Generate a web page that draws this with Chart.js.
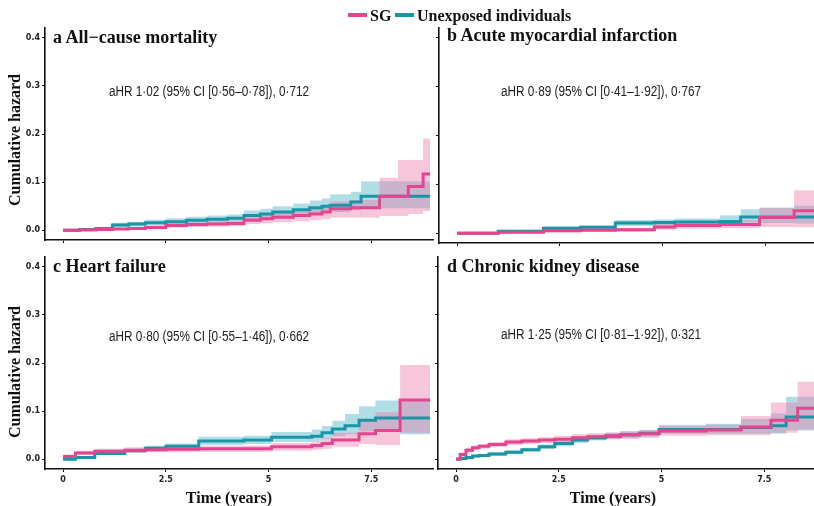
<!DOCTYPE html>
<html>
<head>
<meta charset="utf-8">
<script src="https://cdn.jsdelivr.net/npm/chart.js@4.4.1/dist/chart.umd.min.js"></script>
<style>
  html, body { margin: 0; padding: 0; background: #fff; }
  body { width: 814px; height: 506px; position: relative; overflow: hidden; }
  canvas { position: absolute; }
  .txt { position: absolute; white-space: nowrap; line-height: 1; }
  .ptitle { font: bold 18px "Liberation Serif", "Times New Roman", serif; color: #111; }
  .note { font: 14px "Liberation Sans", Arial, sans-serif; color: #222; transform: translateX(-50%) scaleX(0.84); }
  .axt { font: bold 16px "Liberation Serif", "Times New Roman", serif; color: #111; }
  .leg { font: bold 16px "Liberation Serif", "Times New Roman", serif; color: #111; }
  .swatch { position: absolute; height: 4px; }
</style>
</head>
<body>
<canvas id="pa" width="440" height="250" style="left:0;top:0"></canvas>
<canvas id="pb" width="420" height="253" style="left:415px;top:0"></canvas>
<canvas id="pc" width="440" height="256" style="left:0;top:250px"></canvas>
<canvas id="pd" width="420" height="256" style="left:414px;top:250px"></canvas>

<div class="swatch" style="left:348px;top:13px;width:19px;background:#e4458e"></div>
<div class="txt leg" style="left:370px;top:7px">SG</div>
<div class="swatch" style="left:395px;top:13px;width:19px;background:#1a95a8"></div>
<div class="txt leg" style="left:417px;top:7px">Unexposed individuals</div>

<div id="labels"></div>

<script>
// x ticks (years) and y ticks (cumulative hazard)
let xTicks = [0, 2.5, 5, 7.5];
let yTicks = [0, 0.1, 0.2, 0.3, 0.4];

let panelTitles = ['a All\u2212cause mortality', 'b Acute myocardial infarction', 'c Heart failure', 'd Chronic kidney disease'];
let panelNotes = [
    'aHR 1\u00b702 (95% CI [0\u00b756\u20130\u00b778]), 0\u00b7712',
    'aHR 0\u00b789 (95% CI [0\u00b741\u20131\u00b792]), 0\u00b7767',
    'aHR 0\u00b780 (95% CI [0\u00b755\u20131\u00b746]), 0\u00b7662',
    'aHR 1\u00b725 (95% CI [0\u00b781\u20131\u00b792]), 0\u00b7321'
];

// a: all-cause mortality
let timesA = [0, 0.4, 0.8, 1.2, 1.6, 2.0, 2.5, 3.0, 3.5, 4.0, 4.4, 4.8, 5.1, 5.6, 6.0, 6.3, 6.5, 7.0, 7.25, 7.7, 8.15, 8.4, 8.76, 8.93];
let sgA   = [0, 0.001, 0.002, 0.003, 0.004, 0.006, 0.010, 0.012, 0.013, 0.014, 0.021, 0.024, 0.027, 0.031, 0.034, 0.038, 0.045, 0.047, 0.047, 0.071, 0.071, 0.091, 0.117, 0.117];
let sgLoA = [0, 0.000, 0.001, 0.001, 0.002, 0.003, 0.006, 0.007, 0.008, 0.009, 0.013, 0.015, 0.017, 0.019, 0.021, 0.023, 0.026, 0.026, 0.026, 0.030, 0.030, 0.034, 0.040, 0.040];
let sgHiA = [0, 0.002, 0.004, 0.005, 0.007, 0.010, 0.015, 0.017, 0.019, 0.020, 0.029, 0.033, 0.037, 0.042, 0.046, 0.051, 0.060, 0.063, 0.063, 0.109, 0.146, 0.146, 0.190, 0.190];
let unA   = [0, 0.002, 0.004, 0.011, 0.013, 0.016, 0.018, 0.021, 0.023, 0.025, 0.031, 0.034, 0.038, 0.043, 0.047, 0.050, 0.052, 0.059, 0.071, 0.071, 0.071, 0.071, 0.071, 0.071];
let unLoA = [0, 0.001, 0.002, 0.006, 0.008, 0.010, 0.012, 0.014, 0.016, 0.018, 0.022, 0.024, 0.027, 0.031, 0.034, 0.036, 0.038, 0.042, 0.046, 0.046, 0.046, 0.046, 0.046, 0.046];
let unHiA = [0, 0.003, 0.007, 0.016, 0.018, 0.022, 0.025, 0.028, 0.031, 0.033, 0.041, 0.045, 0.050, 0.056, 0.062, 0.066, 0.075, 0.080, 0.102, 0.102, 0.102, 0.102, 0.102, 0.102];

// b: acute myocardial infarction
let timesB = [0, 1.0, 2.1, 3.0, 3.85, 4.8, 5.3, 6.4, 6.9, 7.36, 8.2, 8.95];
let sgB   = [0, 0.002, 0.005, 0.006, 0.007, 0.013, 0.016, 0.018, 0.018, 0.032, 0.046, 0.046];
let sgLoB = [0, 0.000, 0.002, 0.003, 0.003, 0.007, 0.009, 0.010, 0.010, 0.013, 0.012, 0.012];
let sgHiB = [0, 0.004, 0.008, 0.010, 0.011, 0.020, 0.024, 0.027, 0.027, 0.052, 0.088, 0.088];
let unB   = [0, 0.004, 0.010, 0.012, 0.021, 0.022, 0.023, 0.024, 0.033, 0.033, 0.033, 0.033];
let unLoB = [0, 0.002, 0.006, 0.008, 0.015, 0.016, 0.016, 0.017, 0.022, 0.021, 0.020, 0.020];
let unHiB = [0, 0.006, 0.014, 0.016, 0.027, 0.028, 0.030, 0.037, 0.049, 0.052, 0.056, 0.056];

// c: heart failure
let timesC = [0, 0.3, 0.77, 1.5, 2.0, 2.5, 3.3, 4.4, 5.07, 6.05, 6.3, 6.55, 6.86, 7.2, 7.6, 8.2, 8.93];
let sgC   = [0.006, 0.013, 0.017, 0.019, 0.020, 0.021, 0.022, 0.022, 0.026, 0.029, 0.033, 0.040, 0.040, 0.053, 0.060, 0.123, 0.123];
let sgLoC = [0.003, 0.009, 0.012, 0.014, 0.015, 0.015, 0.016, 0.016, 0.018, 0.020, 0.022, 0.026, 0.026, 0.032, 0.030, 0.055, 0.055];
let sgHiC = [0.010, 0.018, 0.022, 0.025, 0.026, 0.027, 0.028, 0.029, 0.034, 0.038, 0.045, 0.055, 0.055, 0.080, 0.098, 0.196, 0.196];
let unC   = [0.000, 0.004, 0.012, 0.018, 0.023, 0.027, 0.038, 0.040, 0.046, 0.048, 0.055, 0.063, 0.070, 0.081, 0.086, 0.086, 0.086];
let unLoC = [0.000, 0.002, 0.009, 0.014, 0.018, 0.021, 0.030, 0.032, 0.036, 0.038, 0.043, 0.048, 0.052, 0.058, 0.058, 0.052, 0.052];
let unHiC = [0.000, 0.006, 0.016, 0.022, 0.028, 0.033, 0.047, 0.049, 0.057, 0.062, 0.069, 0.080, 0.094, 0.110, 0.122, 0.122, 0.122];

// d: chronic kidney disease
let timesD = [0, 0.1, 0.24, 0.4, 0.56, 0.8, 1.21, 1.6, 2.02, 2.4, 2.83, 3.2, 3.64, 4.0, 4.46, 4.94, 6.08, 6.93, 7.66, 8.03, 8.31, 8.95];
let sgD   = [0.001, 0.010, 0.019, 0.024, 0.027, 0.031, 0.036, 0.038, 0.040, 0.042, 0.045, 0.047, 0.049, 0.051, 0.053, 0.059, 0.061, 0.067, 0.081, 0.081, 0.106, 0.106];
let sgLoD = [0.000, 0.006, 0.014, 0.019, 0.022, 0.026, 0.030, 0.032, 0.034, 0.036, 0.038, 0.040, 0.042, 0.043, 0.045, 0.049, 0.050, 0.050, 0.055, 0.055, 0.062, 0.062];
let sgHiD = [0.002, 0.014, 0.024, 0.029, 0.032, 0.036, 0.042, 0.044, 0.046, 0.049, 0.052, 0.054, 0.056, 0.059, 0.061, 0.069, 0.072, 0.090, 0.118, 0.118, 0.161, 0.161];
let unD   = [0.000, 0.002, 0.004, 0.007, 0.008, 0.011, 0.015, 0.020, 0.026, 0.033, 0.040, 0.045, 0.048, 0.051, 0.054, 0.062, 0.062, 0.066, 0.070, 0.088, 0.088, 0.088];
let unLoD = [0.000, 0.001, 0.002, 0.004, 0.005, 0.007, 0.011, 0.016, 0.021, 0.027, 0.034, 0.039, 0.042, 0.044, 0.047, 0.053, 0.053, 0.053, 0.053, 0.060, 0.060, 0.060];
let unHiD = [0.000, 0.003, 0.006, 0.010, 0.011, 0.015, 0.019, 0.024, 0.031, 0.039, 0.046, 0.051, 0.055, 0.058, 0.061, 0.072, 0.074, 0.084, 0.095, 0.130, 0.130, 0.130];

const PINK = '#e4458e';
const TEAL = '#1a95a8';
const PINK_BAND = 'rgba(236,120,170,0.42)';
const TEAL_BAND = 'rgba(60,170,190,0.40)';
const tickFont = {family: 'DejaVu Sans', weight: 'bold', size: 8};

function pts(times, vals) {
    return times.map(function (t, i) { return {x: t, y: vals[i]}; });
}

function drawPanel(id, times, sg, sgLo, sgHi, un, unLo, unHi, opt) {
    // stepped: true -> value holds until the next time, then jumps (Kaplan-Meier style)
    let line = {pointRadius: 0, stepped: true, borderWidth: 3, fill: false};
    let band = {pointRadius: 0, stepped: true, borderWidth: 0};
    new Chart(document.getElementById(id), {
        type: 'line',
        data: {
            datasets: [
                Object.assign({data: pts(times, sg), borderColor: PINK}, line),
                Object.assign({data: pts(times, un), borderColor: TEAL}, line),
                Object.assign({data: pts(times, sgHi), backgroundColor: PINK_BAND, borderColor: 'transparent', fill: '+1'}, band),
                Object.assign({data: pts(times, sgLo), borderColor: 'transparent', fill: false}, band),
                Object.assign({data: pts(times, unHi), backgroundColor: TEAL_BAND, borderColor: 'transparent', fill: '+1'}, band),
                Object.assign({data: pts(times, unLo), borderColor: 'transparent', fill: false}, band)
            ]
        },
        options: {
            animation: false,
            responsive: false,
            layout: {padding: {top: opt.padTop, right: opt.padRight, left: 0, bottom: 0}},
            plugins: {legend: {display: false}, tooltip: {enabled: false}},
            scales: {
                x: {
                    type: 'linear', min: -0.44, max: 9.0,
                    afterFit: function (s) { s.height = opt.xHeight; },
                    afterBuildTicks: function (s) { s.ticks = xTicks.map(function (v) { return {value: v}; }); },
                    grid: {drawOnChartArea: false, drawTicks: true, tickLength: 3, color: '#111', lineWidth: 1},
                    border: {display: true, color: '#111', width: 1.6},
                    ticks: {display: opt.xLabels, autoSkip: false, maxRotation: 0, padding: 3, color: '#222', font: tickFont,
                        callback: function (v) { return String(v); }}
                },
                y: {
                    min: -0.02, max: 0.42,
                    afterFit: function (s) { s.width = opt.yWidth; },
                    afterBuildTicks: function (s) { s.ticks = yTicks.map(function (v) { return {value: v}; }); },
                    grid: {drawOnChartArea: false, drawTicks: true, tickLength: 3, color: '#111', lineWidth: 1},
                    border: {display: true, color: '#111', width: 1.6},
                    ticks: {display: opt.yLabels, autoSkip: false, padding: 2, color: '#222', font: tickFont,
                        callback: function (v) { return v.toFixed(1); }}
                }
            }
        }
    });
}

drawPanel('pa', timesA, sgA, sgLoA, sgHiA, unA, unLoA, unHiA, {padTop: 28, padRight: 7, xHeight: 10, yWidth: 45, xLabels: false, yLabels: true});
drawPanel('pb', timesB, sgB, sgLoB, sgHiB, unB, unLoB, unHiB, {padTop: 28, padRight: 8, xHeight: 10, yWidth: 24, xLabels: false, yLabels: false});
drawPanel('pc', timesC, sgC, sgLoC, sgHiC, unC, unLoC, unHiC, {padTop: 7, padRight: 7, xHeight: 37, yWidth: 45, xLabels: true, yLabels: true});
drawPanel('pd', timesD, sgD, sgLoD, sgHiD, unD, unLoD, unHiD, {padTop: 7, padRight: 8, xHeight: 37, yWidth: 24, xLabels: true, yLabels: false});

// panel labels, hazard-ratio notes and axis titles
let titlePos = [[53, 27], [447, 25], [53, 256], [447, 256]];
let notePos = [[209, 83], [601, 83], [209, 328], [601, 326]];
let html = '';
for (let i = 0; i < 4; i++) {
    html += '<div class="txt ptitle" style="left:' + titlePos[i][0] + 'px;top:' + titlePos[i][1] + 'px">' + panelTitles[i] + '</div>';
    html += '<div class="txt note" style="left:' + notePos[i][0] + 'px;top:' + notePos[i][1] + 'px">' + panelNotes[i] + '</div>';
}
html += '<div class="txt axt" style="left:15px;top:140px;transform:translate(-50%,-50%) rotate(-90deg)">Cumulative hazard</div>';
html += '<div class="txt axt" style="left:15px;top:372px;transform:translate(-50%,-50%) rotate(-90deg)">Cumulative hazard</div>';
html += '<div class="txt axt" style="left:229px;top:489px;transform:translateX(-50%)">Time (years)</div>';
html += '<div class="txt axt" style="left:613px;top:489px;transform:translateX(-50%)">Time (years)</div>';
document.getElementById('labels').innerHTML = html;
</script>
</body>
</html>
